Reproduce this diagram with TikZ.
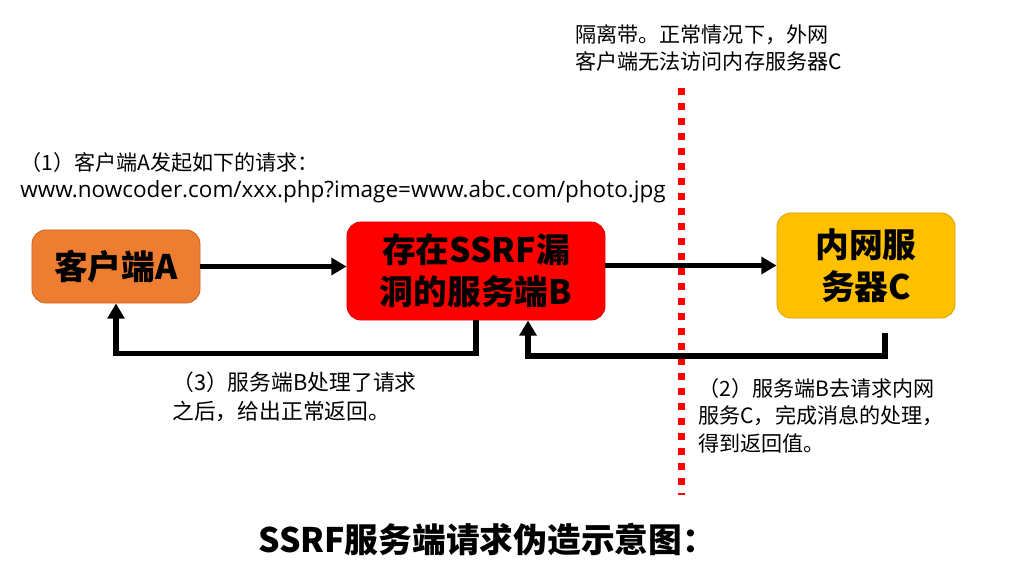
\documentclass[tikz,border=0pt]{standalone}
\usepackage{fontspec}
\setmainfont{Noto Sans CJK SC}
\newfontfamily\latinfont{Open Sans}
\usepackage{xcolor}
\usetikzlibrary{positioning, arrows.meta}

\definecolor{clientorange}{HTML}{ED7D31}
\definecolor{clientedge}{HTML}{C9651F}
\definecolor{serverred}{HTML}{FF0000}
\definecolor{serveredge}{HTML}{E00000}
\definecolor{innergold}{HTML}{FFC000}
\definecolor{inneredge}{HTML}{D9A300}
\definecolor{wallred}{HTML}{FF0000}

\begin{document}
\begin{tikzpicture}[
    x=0.025cm, y=-0.025cm,
    box/.style={
        rectangle,
        rounded corners=0.35cm,
        draw,
        line width=0.6pt,
        align=center,
        inner sep=0pt,
        font=\fontsize{24}{30}\selectfont\bfseries
    },
    arrow/.style={
        line width=3.6pt,
        -{Triangle[length=3.8mm, width=4.2mm]}
    },
    note/.style={
        anchor=north west,
        align=left,
        inner sep=0pt,
        font=\fontsize{15}{19.5}\selectfont
    },
    wall/.style={
        wallred,
        line width=0.175cm,
        dash pattern=on 0.175cm off 0.2cm
    }
]

\useasboundingbox (0,0) rectangle (1033,568);

% the three parties
\node[box, fill=clientorange, draw=clientedge, minimum width=4.2cm, minimum height=1.825cm] (client) at (116,266.5) {客户端A};
\node[box, fill=serverred, draw=serveredge, minimum width=6.45cm, minimum height=2.45cm] (server) at (476,271) {存在SSRF漏\\洞的服务端B};
\node[box, fill=innergold, draw=inneredge, minimum width=4.45cm, minimum height=2.625cm] (intranet) at (866,265.5) {内网服\\务器C};

% isolation zone
\coordinate (walltop) at (681,88);
\coordinate (wallbottom) at (681,495);
\draw[wall] (walltop) -- (wallbottom);

% requests and replies
\draw[arrow] (client.east) -- (client.east -| server.west);
\draw[arrow] (server.east |- intranet.west) -- (intranet.west);
\coordinate (cfoot) at (885,333);
\draw[arrow] (cfoot) -- ++(0,23) -| ([xshift=1.3cm]server.south);
\draw[arrow] (server.south) -- ++(0,33) -| (client.south);

% notes
\node[note] (wallnote) at (575,24) {隔离带。正常情况下，外网\\客户端无法访问内存服务器C};
\node[note] (step1) at (20,152) {（1）客户端A发起如下的请求：\\{\latinfont\fontsize{16}{19.5}\selectfont www.nowcoder.com/xxx.php?image=www.abc.com/photo.jpg}};
\node[note, font=\fontsize{15.5}{20}\selectfont] (step3) at (172,372) {（3）服务端B处理了请求\\之后，给出正常返回。};
\node[note] (step2) at (698,378) {（2）服务端B去请求内网\\服务C，完成消息的处理，\\得到返回值。};

\node[anchor=west, inner sep=0pt, font=\fontsize{24}{28}\selectfont\bfseries] (title) at (258,540) {SSRF服务端请求伪造示意图：};

\end{tikzpicture}
\end{document}
